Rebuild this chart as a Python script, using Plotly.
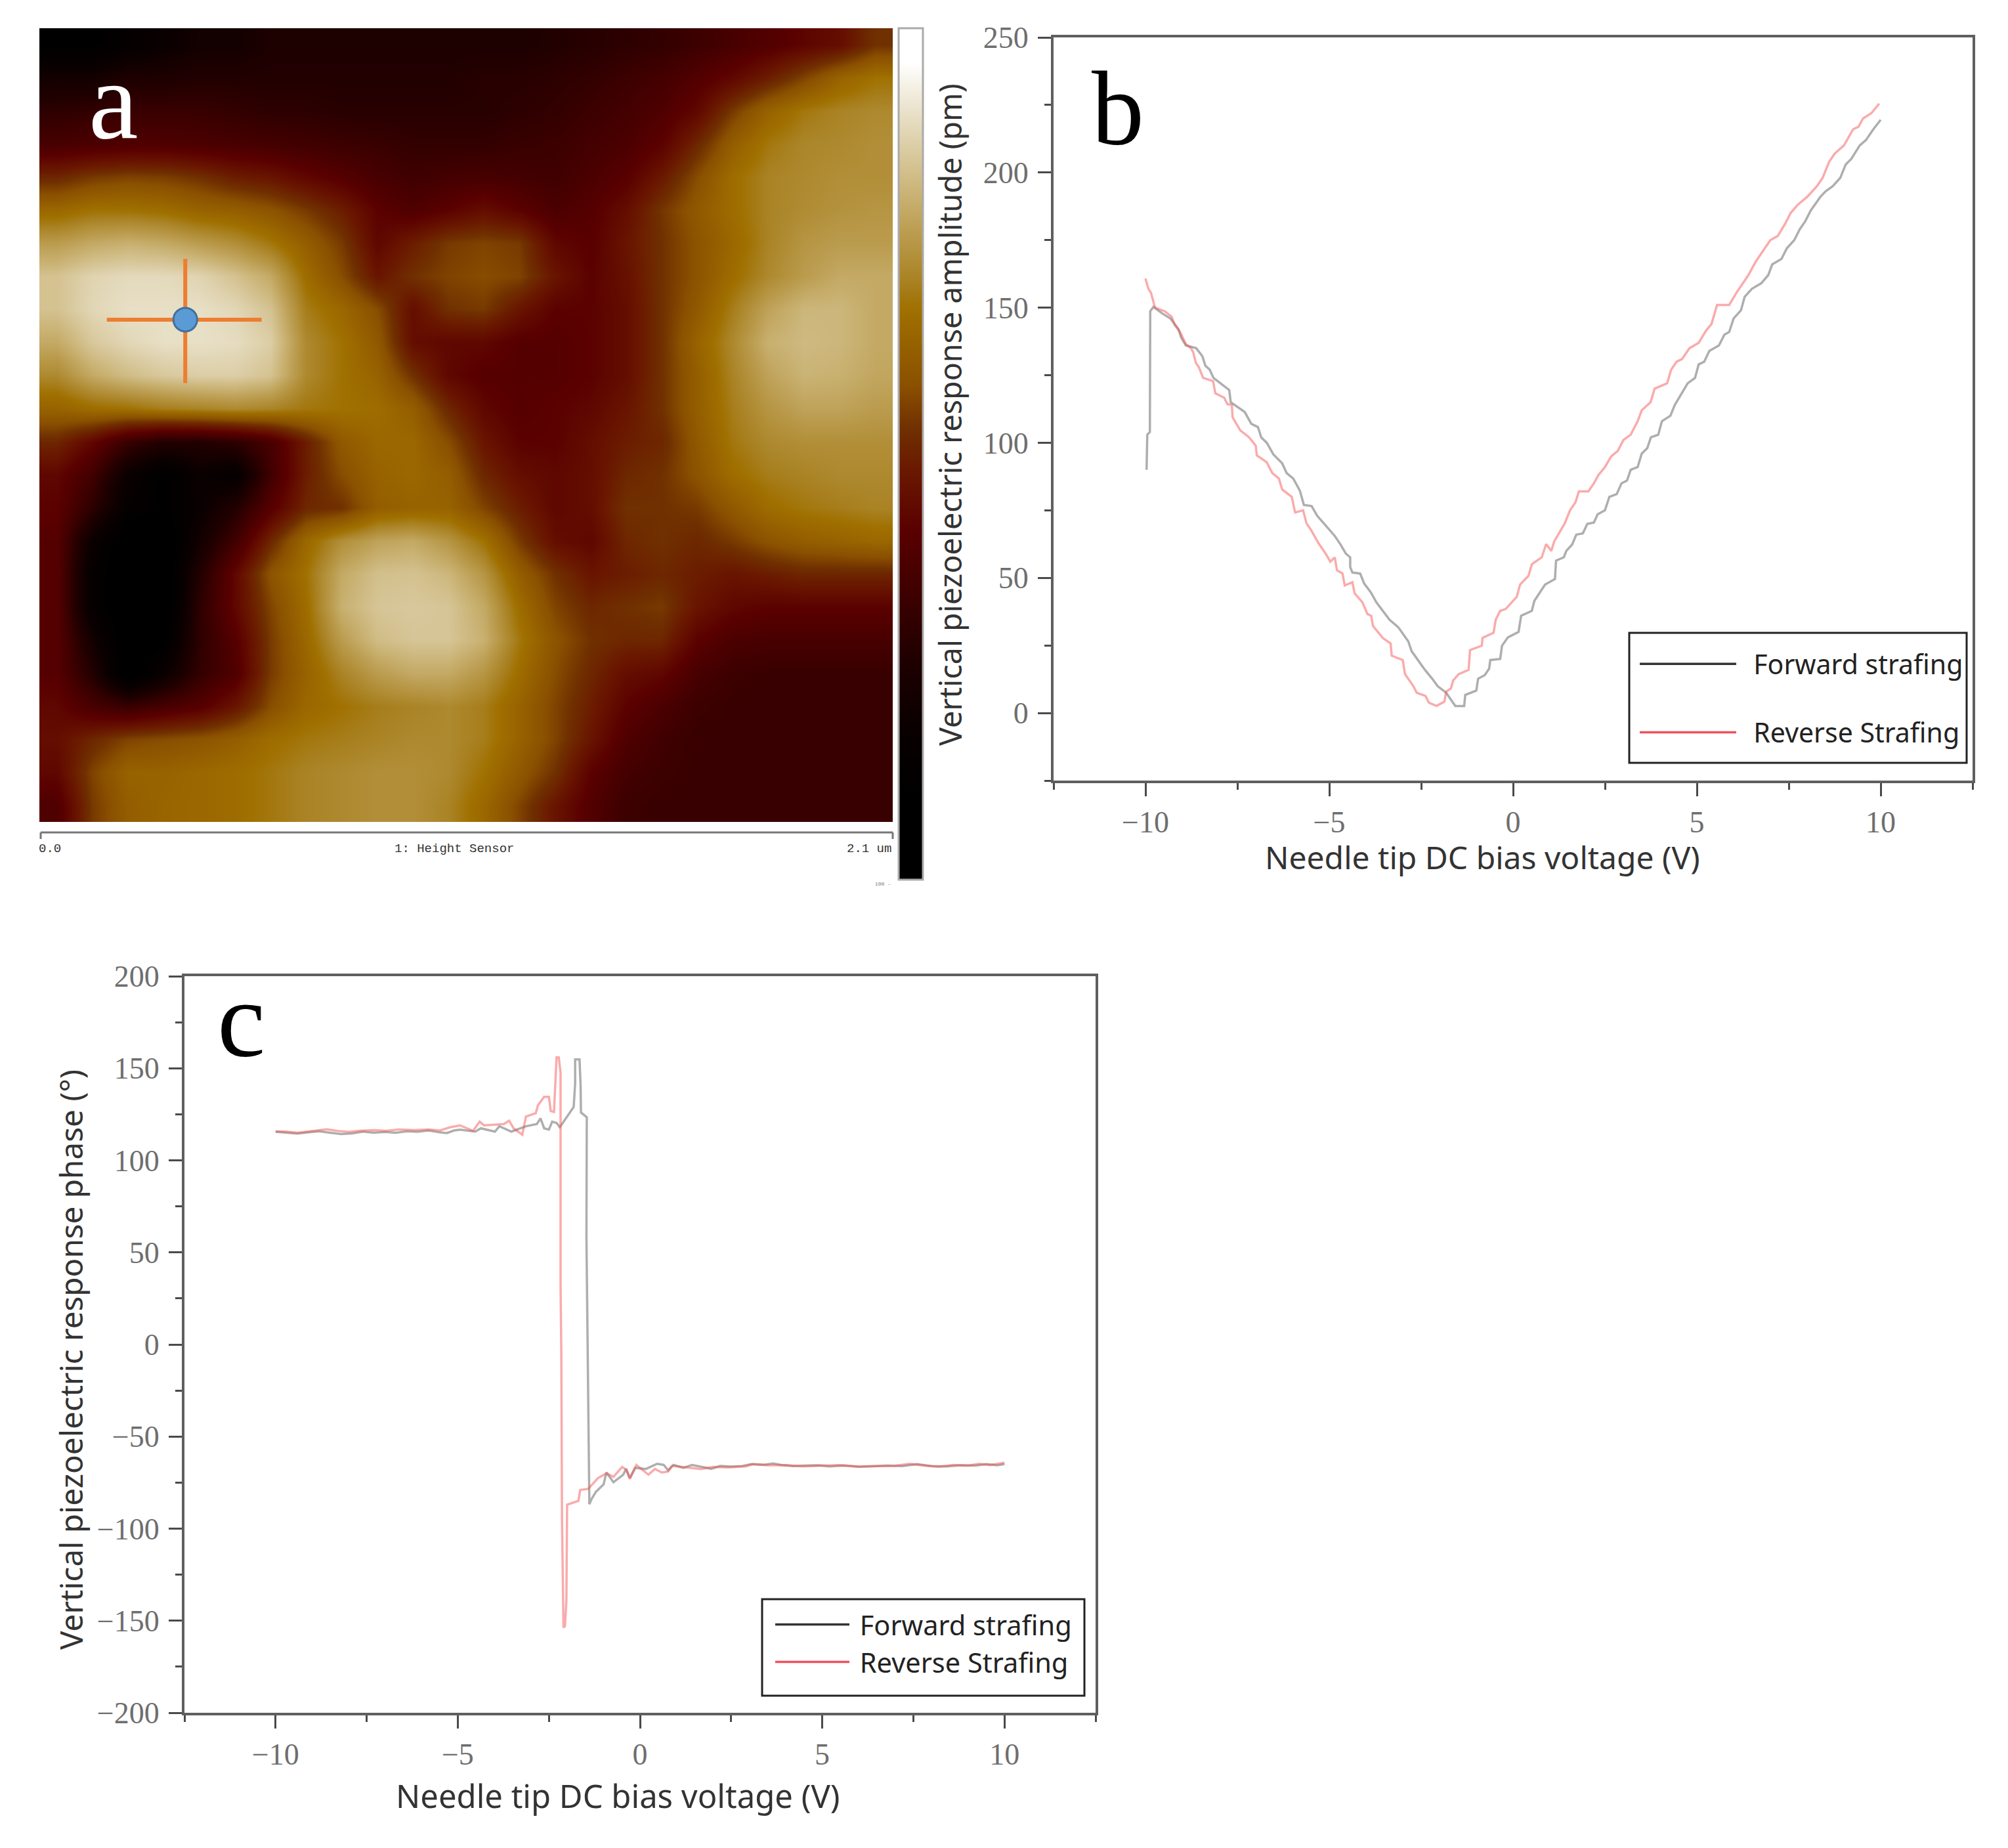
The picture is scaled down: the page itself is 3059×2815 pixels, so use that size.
import numpy as np
import plotly.graph_objects as go

W, H = 3059, 2815

# ---------- panel a: surface map, on a 24 x 24 grid ----------
IMAGE_ROWS = [
[1,1,2,3,4,4,5,5,5,5,5,5,5,5,6,7,8,9,11,14,17,21,24,32],
[4,4,5,5,6,6,6,6,6,6,6,6,7,7,8,9,11,13,17,22,28,36,46,52],
[8,9,10,10,10,9,8,8,7,7,7,7,7,8,9,11,13,16,22,34,46,54,58,60],
[14,15,16,16,15,14,13,12,11,10,9,9,9,10,11,13,15,20,30,44,54,59,60,62],
[30,34,36,35,32,28,26,22,18,14,12,13,14,13,12,15,19,27,38,50,58,60,62,62],
[48,52,52,50,46,44,40,34,28,20,16,20,24,20,15,18,24,33,42,50,58,61,63,64],
[66,70,72,70,66,62,54,44,34,22,28,34,36,34,22,19,26,32,40,48,58,64,66,66],
[78,84,86,86,84,78,70,50,38,26,32,36,38,36,26,20,25,32,40,50,60,66,70,70],
[78,85,88,88,88,85,78,56,48,38,24,32,34,26,20,20,24,32,42,56,68,74,74,70],
[70,80,85,88,88,87,82,60,52,42,24,22,22,18,18,20,24,32,46,60,72,75,74,70],
[60,70,76,80,82,82,78,60,52,46,32,22,18,18,18,20,24,32,44,58,68,73,72,69],
[46,50,52,56,58,60,58,54,52,50,44,30,22,18,20,22,26,32,44,56,64,68,68,66],
[30,22,10,6,6,8,14,28,42,48,48,38,26,20,20,24,28,30,42,54,60,62,62,62],
[22,12,3,1,3,2,12,28,38,46,48,44,30,24,22,24,30,32,40,50,56,58,60,60],
[20,8,2,1,3,6,18,30,32,44,46,46,36,28,22,24,32,32,34,42,50,54,56,58],
[18,3,0,0,4,12,30,48,62,68,70,64,52,34,24,22,30,32,30,34,40,44,46,48],
[18,2,0,0,6,22,40,52,70,77,78,74,64,44,32,26,28,30,28,26,28,30,30,30],
[18,2,0,0,8,22,36,50,72,79,80,79,70,50,36,30,32,34,26,22,20,20,20,20],
[18,4,0,1,8,18,34,48,66,76,79,79,72,54,40,32,30,30,20,15,14,14,14,14],
[18,6,0,3,9,16,34,46,58,66,70,70,64,50,38,30,24,22,14,11,10,10,10,10],
[22,14,10,14,18,26,38,48,52,56,58,60,56,46,36,28,20,15,11,10,10,10,10,10],
[24,30,36,38,40,44,50,54,56,58,60,60,56,46,36,26,16,12,10,10,10,10,10,10],
[22,36,46,46,48,50,54,58,60,62,62,60,52,42,32,20,13,11,10,10,10,10,10,10],
[16,34,44,47,48,50,54,58,60,62,62,58,48,36,26,17,11,10,10,10,10,10,10,10],
]
# shade -> its position along the colour bar
SHADE_READ = [0, 2, 5, 10, 16, 22, 32, 40, 50, 62, 72, 85, 100]
BAR_POSITION = [6, 14, 25, 32, 38, 43, 53, 59, 66, 73, 80, 88, 97]
COLORBAR_STOPS = [
    [0.00, "#000000"], [0.10, "#000000"], [0.18, "#0a0000"], [0.26, "#200000"],
    [0.34, "#400000"], [0.41, "#5a0000"], [0.48, "#6a1800"], [0.53, "#703000"],
    [0.58, "#8a5000"], [0.67, "#a07000"], [0.70, "#a88020"], [0.80, "#c8b070"],
    [0.90, "#e8e0c8"], [0.96, "#ffffff"], [1.00, "#ffffff"],
]
MARK_X_UM = [0.166, 0.547]
MARK_Y_UM = [1.161, 1.490]
MARK_CENTRE = [0.359, 1.329]

# ---------- panel b: amplitude (pm) against bias (V) ----------
B_FORWARD_V = [-9.97,-9.95,-9.88,-9.87,-9.78,-9.56,-9.32,-9.2,-9.1,-9.03,-8.9,-8.62,-8.45,-8.37,-8.25,-8.15,-7.95,-7.72,-7.68,-7.3,-7.12,-6.94,-6.85,-6.7,-6.52,-6.28,-6.16,-5.98,-5.8,-5.69,-5.48,-5.33,-5.15,-5.0,-4.85,-4.7,-4.55,-4.43,-4.43,-4.37,-4.16,-4.05,-3.87,-3.72,-3.54,-3.36,-3.12,-2.85,-2.76,-2.58,-2.4,-2.2,-2.05,-1.82,-1.69,-1.57,-1.33,-1.3,-1.0,-0.95,-0.77,-0.65,-0.62,-0.35,-0.3,-0.14,0.15,0.22,0.51,0.58,0.87,1.14,1.17,1.38,1.45,1.61,1.72,1.9,2.02,2.2,2.3,2.5,2.62,2.82,2.95,3.1,3.2,3.39,3.5,3.65,3.75,3.95,4.05,4.28,4.4,4.63,4.75,4.95,5.05,5.2,5.34,5.6,5.75,5.88,6.0,6.2,6.3,6.5,6.75,6.94,7.05,7.3,7.45,7.65,7.8,7.95,8.1,8.36,8.5,8.7,8.9,9.05,9.2,9.43,9.6,9.8,10.0]
B_FORWARD_PM = [90,103,104,148.7,150.3,148,146,144,142,139,136,135,132,128.5,127,124,122,119.5,115,111.4,107,105.8,102,100,95.7,92.4,88.8,86.8,82.3,77,76.6,73,70.2,68,65.5,62.5,59,57.6,54,52,51.6,47.9,44.7,41,37.8,34.5,31.7,26.5,22.9,19.6,16,12.7,9.9,7.5,5,2.6,2.6,6.7,8.3,12.7,14,16.4,19.6,20,24.9,28,30,36,37.8,41.5,47.5,49.6,56.4,57.6,60,62.4,66,66.5,70,70.5,73.5,75,80,81,85,86,90,91,96,98,102,103,108,110,114,119,122,124,129,130,134,136,140,141,146,149,154,157,159,162,166,168,172,175,179,182,186,191,193,195,198,203,205,210,212,216,219.5]
B_REVERSE_V = [-10.0,-9.92,-9.85,-9.74,-9.47,-9.29,-9.2,-9.06,-8.9,-8.76,-8.7,-8.63,-8.55,-8.43,-8.16,-8.1,-7.86,-7.77,-7.65,-7.63,-7.42,-7.18,-7.0,-6.97,-6.7,-6.55,-6.37,-6.28,-6.02,-5.93,-5.71,-5.62,-5.5,-5.3,-5.1,-4.97,-4.85,-4.79,-4.64,-4.58,-4.37,-4.31,-4.1,-3.96,-3.86,-3.81,-3.54,-3.33,-3.3,-3.0,-2.94,-2.71,-2.62,-2.38,-2.29,-2.08,-1.87,-1.82,-1.69,-1.63,-1.48,-1.21,-1.17,-0.85,-0.83,-0.53,-0.47,-0.35,-0.2,0.1,0.19,0.42,0.51,0.78,0.9,1.04,1.12,1.25,1.4,1.55,1.7,1.79,2.05,2.2,2.32,2.5,2.67,2.85,3.0,3.2,3.39,3.5,3.74,3.85,4.19,4.3,4.45,4.6,4.8,5.05,5.25,5.4,5.55,5.88,6.1,6.4,6.6,6.85,7.0,7.2,7.4,7.55,7.74,8.0,8.27,8.42,8.6,8.75,9.0,9.25,9.4,9.52,9.75,9.96]
B_REVERSE_PM = [160.8,157,155.5,150,148.6,146.7,143.5,141,136.5,135,133.5,129.6,128,124,122.8,118.3,116.7,114.3,114,109.4,104.6,102,98.9,95.3,92.8,88.8,86.8,82.7,80,74.2,75,70.2,67.8,63,59,56,57.6,52.8,51.6,47.2,48.4,44.3,41,36.6,36,32.2,27.7,25.7,21.2,19.6,14.4,9.9,7.5,6.3,3.8,2.6,4.2,7.9,9.1,12,14.4,16,23.3,24.9,27.8,29.7,34.6,37.8,38.5,43,47.5,50.8,55,57.6,62.5,60,63.5,66.7,70,75,78,82,82,85,88,91,95,97,101,103,108,112,115,120,122,127,130,131,135,137,141.5,144,151,151,156,162,167,172,175,176.5,181,185,188,191,195,198,204,207,210,216,217,220,222,225.5]

# ---------- panel c: phase (degrees) against bias (V) ----------
C_FORWARD_V = [-10,-9.7,-9.4,-9.1,-8.8,-8.5,-8.2,-7.9,-7.6,-7.3,-7,-6.7,-6.4,-6.1,-5.8,-5.5,-5.3,-5.1,-4.94,-4.52,-4.37,-3.98,-3.86,-3.53,-3.13,-2.83,-2.73,-2.63,-2.5,-2.41,-2.29,-2.2,-2,-1.82,-1.78,-1.78,-1.66,-1.63,-1.62,-1.46,-1.47,-1.42,-1.39,-1.33,-1.21,-1.0,-0.92,-0.73,-0.46,-0.38,-0.28,-0.13,0.16,0.47,0.65,0.77,0.92,1.19,1.43,1.7,1.95,2.2,2.5,2.8,3.05,3.4,3.65,3.9,4.2,4.5,4.9,5.2,5.6,6,6.4,6.8,7.2,7.6,8,8.4,8.8,9.2,9.5,9.8,10]
C_FORWARD_DEG = [115.5,115,114.5,115.2,115.8,115,114.3,114.6,115.6,115,115.4,115,115.8,115.5,116.2,115.2,114.8,116.2,116.7,115.6,117.4,115.6,118.5,115.6,118.5,119.7,122.8,117.4,116.7,121,120.3,118,123.8,129,141.6,154.8,154.8,140.6,126,123.4,58.7,-36.3,-86.7,-84,-80,-76,-69.5,-74.8,-70.7,-67.5,-72.5,-67,-67.6,-64.8,-65.4,-68.3,-65.4,-67,-65.4,-66.5,-67.5,-66,-66.3,-66,-65,-65.3,-64.6,-65.5,-66,-65.8,-65.6,-66.2,-65.8,-66.4,-66,-65.8,-66,-65,-66,-66.2,-65.6,-65.8,-65,-65.6,-65]
C_REVERSE_V = [-10,-9.7,-9.4,-9,-8.6,-8.3,-8,-7.7,-7.3,-7,-6.6,-6.2,-5.8,-5.5,-5.2,-4.94,-4.58,-4.4,-4.28,-3.74,-3.59,-3.47,-3.23,-3.13,-2.86,-2.8,-2.63,-2.5,-2.45,-2.36,-2.29,-2.23,-2.18,-2.18,-2.16,-2.14,-2.1,-2.06,-2.02,-2,-1.69,-1.64,-1.42,-1.15,-0.92,-0.73,-0.49,-0.38,-0.28,-0.1,0.23,0.41,0.6,0.77,0.88,1.67,2,2.4,2.9,3.1,3.5,4,4.5,5,5.5,6,6.5,7,7.4,7.8,8.2,8.6,9,9.3,9.6,10]
C_REVERSE_DEG = [115.8,115.6,115,115.8,116.8,116,115.4,116,116.4,116,116.8,116.4,116.8,116.2,118,119,116,121,119,119.7,121.5,117.4,113.9,123.8,125.6,129.9,134.5,134.5,126.8,126.3,155.9,155.9,147.7,31.3,-4,-95.6,-153.7,-153,-138.9,-87,-84.9,-79,-78.4,-72.5,-70,-71.9,-66.5,-68,-73,-65.4,-70.7,-67.6,-69.5,-69,-65.9,-67.6,-66.5,-66.8,-66.2,-65,-65.6,-65.5,-66.2,-65.8,-65.5,-66.3,-66,-65.9,-64.8,-65.8,-66.4,-65.4,-65.8,-64.8,-65.5,-64.2]

X_TICKS = [-10, -5, 0, 5, 10]
B_Y_TICKS = [0, 50, 100, 150, 200, 250]
C_Y_TICKS = [-200, -150, -100, -50, 0, 50, 100, 150, 200]
SERIES = ["Forward strafing", "Reverse Strafing"]

GRAY_LINE = "rgba(85,85,85,0.48)"
PINK_LINE = "rgba(245,80,80,0.48)"
SANS = "Noto Sans"
SERIF = "Liberation Serif"
AXIS = "#5f5f5f"


def fx(p):
    return p / W


def fy(p):
    return 1 - p / H


fig = go.Figure()

# panel a
n = len(IMAGE_ROWS)
z = np.interp(np.array(IMAGE_ROWS, dtype=float), SHADE_READ, BAR_POSITION)
fig.add_trace(go.Heatmap(
    z=z[::-1], x0=2.1 / 48, dx=2.1 / 24, y0=2.1 / 48, dy=2.1 / 24,
    xaxis="x3", yaxis="y3", zmin=0, zmax=100, zsmooth="best",
    colorscale=COLORBAR_STOPS, showlegend=False,
    colorbar=dict(x=fx(1369), xanchor="left", xpad=0, ypad=0, thicknessmode="pixels", thickness=37,
                  lenmode="fraction", len=1297 / H, y=fy(43), yanchor="top",
                  ticks="", showticklabels=False, outlinecolor="#aaaaaa", outlinewidth=3),
))
fig.add_trace(go.Scatter(x=MARK_X_UM, y=[MARK_CENTRE[1]] * 2, xaxis="x3", yaxis="y3", mode="lines",
                         line=dict(color="#ed7d31", width=6), showlegend=False))
fig.add_trace(go.Scatter(x=[MARK_CENTRE[0]] * 2, y=MARK_Y_UM, xaxis="x3", yaxis="y3", mode="lines",
                         line=dict(color="#ed7d31", width=6), showlegend=False))
fig.add_trace(go.Scatter(x=[MARK_CENTRE[0]], y=[MARK_CENTRE[1]], xaxis="x3", yaxis="y3", mode="markers",
                         marker=dict(color="#5b9bd5", size=36, line=dict(color="#41719c", width=3)),
                         showlegend=False))

# panels b and c
for xa, ya, leg, pad, fv, fy_, rv, ry_ in [
    ("x", "y", "legend", "\u00a0\u00a0", B_FORWARD_V, B_FORWARD_PM, B_REVERSE_V, B_REVERSE_PM),
    ("x2", "y2", "legend2", "\u00a0", C_FORWARD_V, C_FORWARD_DEG, C_REVERSE_V, C_REVERSE_DEG),
]:
    fig.add_trace(go.Scatter(x=fv, y=fy_, xaxis=xa, yaxis=ya, mode="lines", name=SERIES[0],
                             line=dict(color=GRAY_LINE, width=3.5), showlegend=False))
    fig.add_trace(go.Scatter(x=rv, y=ry_, xaxis=xa, yaxis=ya, mode="lines", name=SERIES[1],
                             line=dict(color=PINK_LINE, width=3.5), showlegend=False))
    # legend keys are drawn stronger than the data lines in the original
    fig.add_trace(go.Scatter(x=[None], y=[None], xaxis=xa, yaxis=ya, mode="lines", name=pad + SERIES[0],
                             legend=leg, legendgroup=leg + "f", line=dict(color="#333333", width=3.5)))
    fig.add_trace(go.Scatter(x=[None], y=[None], xaxis=xa, yaxis=ya, mode="lines", name=pad + SERIES[1],
                             legend=leg, legendgroup=leg + "r", line=dict(color="#f0525c", width=3.5)))


def axis_style(**kw):
    base = dict(showgrid=False, zeroline=False, showline=True, linecolor=AXIS, linewidth=4, mirror=True,
                ticks="outside", tickcolor="#4a4a4a", tickwidth=3, ticklen=20,
                tickfont=dict(family=SERIF, size=46, color="#6e6e6e"))
    base.update(kw)
    return base


xminor = dict(dtick=2.5, tick0=0, ticks="outside", ticklen=10, tickwidth=3, tickcolor="#4a4a4a")
yminor = dict(dtick=25, tick0=0, ticks="outside", ticklen=10, tickwidth=3, tickcolor="#4a4a4a")

legend_common = dict(bgcolor="rgba(0,0,0,0)", borderwidth=0, traceorder="grouped",
                     xanchor="left", yanchor="top",
                     itemclick=False, itemdoubleclick=False)

annots = [
    dict(text="a", x=172, y=153, color="white", size=170, family=SERIF),
    dict(text="b", x=1703, y=165, color="black", size=160, family=SERIF),
    dict(text="c", x=367, y=1552, color="black", size=165, family=SERIF),
    dict(text="Needle tip DC bias voltage (V)", x=2258, y=1305, color="#333333", size=48, family=SANS),
    dict(text="Needle tip DC bias voltage (V)", x=941, y=2735, color="#333333", size=49, family=SANS),
    dict(text="0.0", x=76, y=1293, color="#333333", size=19, family="Liberation Mono"),
    dict(text="1: Height Sensor", x=692, y=1293, color="#333333", size=19, family="Liberation Mono"),
    dict(text="2.1 um", x=1324, y=1293, color="#333333", size=19, family="Liberation Mono"),
    dict(text="100 -", x=1345, y=1346, color="#777777", size=8, family="Liberation Mono"),
]
annotations = [dict(text=a["text"], xref="paper", yref="paper", x=fx(a["x"]), y=fy(a["y"]),
                    xanchor="center", yanchor="middle", showarrow=False,
                    font=dict(family=a["family"], size=a["size"], color=a["color"])) for a in annots]
for text, x, y, size in [("Vertical piezoelectric response amplitude (pm)", 1447, 632, 46.6),
                         ("Vertical piezoelectric response phase (°)", 107, 2071, 47.6)]:
    annotations.append(dict(text=text, xref="paper", yref="paper", x=fx(x), y=fy(y), textangle=-90,
                            xanchor="center", yanchor="middle", showarrow=False,
                            font=dict(family=SANS, size=size, color="#333333")))


def rect(x0, y0, x1, y1, color="#222222", width=3):
    return dict(type="rect", xref="paper", yref="paper", x0=fx(x0), x1=fx(x1), y0=fy(y1), y1=fy(y0),
                line=dict(color=color, width=width))


def seg(x0, y0, x1, y1, color="#777777", width=3):
    return dict(type="line", xref="paper", yref="paper", x0=fx(x0), x1=fx(x1), y0=fy(y0), y1=fy(y1),
                line=dict(color=color, width=width))


shapes = [
    rect(2482, 964, 2996, 1162),
    rect(1161, 2436, 1652, 2583),
    seg(62, 1268, 1360, 1268), seg(62, 1268, 62, 1278), seg(1360, 1268, 1360, 1278),
]

fig.update_layout(
    width=W, height=H, paper_bgcolor="white", plot_bgcolor="white",
    margin=dict(l=0, r=0, t=0, b=0, autoexpand=False),
    xaxis=axis_style(domain=[fx(1605), fx(3005)], range=[-12.5, 12.5], tickvals=X_TICKS, anchor="y",
                     minor=xminor, ticklabelstandoff=0),
    yaxis=axis_style(domain=[fy(1189), fy(57)], range=[-25, 250], tickvals=B_Y_TICKS, anchor="x",
                     minor=yminor, ticklabelstandoff=5),
    xaxis2=axis_style(domain=[fx(281), fx(1669)], range=[-12.5, 12.5], tickvals=X_TICKS, anchor="y2",
                      minor=xminor, ticklabelstandoff=0),
    yaxis2=axis_style(domain=[fy(2609), fy(1487)], range=[-200, 200], tickvals=C_Y_TICKS, anchor="x2",
                      minor=yminor, ticklabelstandoff=5),
    xaxis3=dict(domain=[fx(60), fx(1360)], range=[0, 2.1], visible=False, anchor="y3"),
    yaxis3=dict(domain=[fy(1252), fy(43)], range=[0, 2.1], visible=False, anchor="x3"),
    legend=dict(x=fx(2493), y=fy(978), tracegroupgap=48, itemwidth=147,
                font=dict(family=SANS, size=41, color="#222222"), **legend_common),
    legend2=dict(x=fx(1176), y=fy(2441), tracegroupgap=0, itemwidth=113,
                 font=dict(family=SANS, size=41.5, color="#222222"), **legend_common),
    annotations=annotations, shapes=shapes, showlegend=True,
)

fig.write_html("out.html", config={"displayModeBar": False}, post_script="document.body.style.margin='0';")
